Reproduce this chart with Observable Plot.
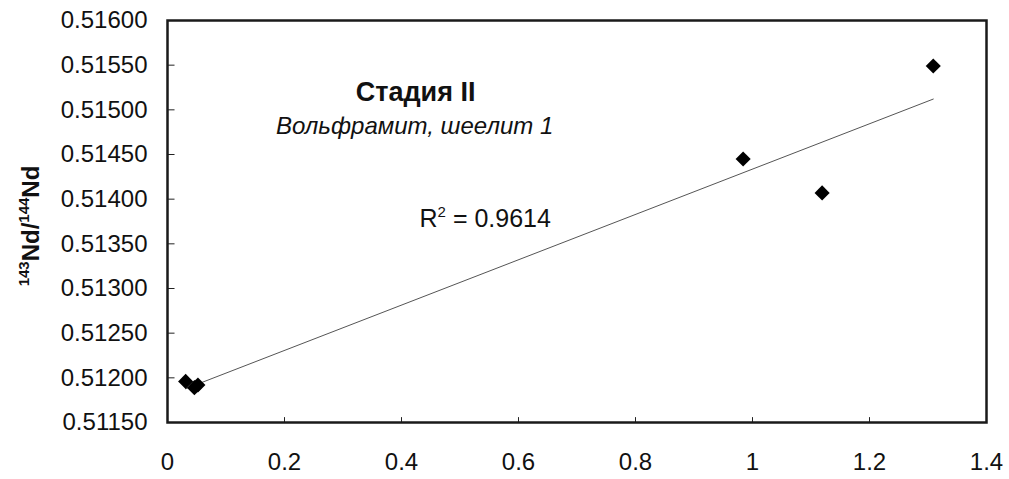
<!DOCTYPE html>
<html>
<head>
<meta charset="utf-8">
<script src="https://cdn.jsdelivr.net/npm/d3@7"></script>
<script src="https://cdn.jsdelivr.net/npm/@observablehq/plot@0.6"></script>
<style>
  html, body { margin: 0; padding: 0; background: #fff; }
  svg { display: block; }
</style>
</head>
<body>
<div id="chart"></div>
<script>
// Data
const xValues = [0.031, 0.046, 0.052, 0.984, 1.119, 1.309];
const yValues = [0.51196, 0.51189, 0.51192, 0.51445, 0.51407, 0.51549];

const xTicks = [0, 0.2, 0.4, 0.6, 0.8, 1, 1.2, 1.4];
const xTickLabels = ["0", "0.2", "0.4", "0.6", "0.8", "1", "1.2", "1.4"];
const yTicks = [0.5115, 0.512, 0.5125, 0.513, 0.5135, 0.514, 0.5145, 0.515, 0.5155, 0.516];

const titleText = "Стадия II";
const subtitleText = "Вольфрамит, шеелит 1";
const r2Value = "0.9614";

const points = xValues.map((x, i) => ({x, y: yValues[i]}));
const font = "'Liberation Sans', Arial, sans-serif";

const chart = Plot.plot({
  width: 1009,
  height: 479,
  marginLeft: 167,
  marginRight: 23,
  marginTop: 20,
  marginBottom: 57,
  style: {fontFamily: font, fontSize: "24px", color: "#111", background: "#fff"},
  x: {domain: [0, 1.4]},
  y: {domain: [0.5115, 0.516]},
  marks: [
    Plot.axisX({ticks: xTicks, tickFormat: (d, i) => xTickLabels[i], tickSize: 0, tickPadding: 30, label: null, fontSize: 24}),
    Plot.axisY({ticks: yTicks, tickFormat: d3.format(".5f"), tickSize: 0, tickPadding: 20, label: null, fontSize: 24}),
    // inward tick marks
    Plot.link(xTicks, {x1: d => d, x2: d => d, y1: 0.5115, y2: 0.5115 + 0.00006, stroke: "#222", strokeWidth: 1}),
    Plot.link(yTicks, {y1: d => d, y2: d => d, x1: 0, x2: 0.012, stroke: "#222", strokeWidth: 1}),
    Plot.linearRegressionY(points, {x: "x", y: "y", ci: 0, stroke: "#555", strokeWidth: 1}),
    Plot.dot(points, {x: "x", y: "y", symbol: "diamond2", r: 6.8, fill: "#000", stroke: "none"}),
    Plot.frame({stroke: "#1a1a1a", strokeWidth: 2.5}),
    Plot.text([titleText], {x: 0.424, y: 0.515195, text: d => d, fontWeight: "bold", fontSize: 27, fill: "#111"}),
    Plot.text([subtitleText], {x: 0.4225, y: 0.514814, text: d => d, fontStyle: "italic", fontSize: 24, fill: "#111"})
  ]
});

const svg = d3.select(chart);
const xs = v => 167 + (v / 1.4) * (1009 - 167 - 23);
const ys = v => 20 + (0.516 - v) / 0.0045 * (479 - 20 - 57);

// R² annotation with a real superscript
const r2 = svg.append("text")
  .attr("x", xs(0.544)).attr("y", ys(0.513785))
  .attr("dy", "0.35em")
  .attr("text-anchor", "middle")
  .attr("font-family", font)
  .attr("font-size", 25)
  .attr("fill", "#111");
r2.append("tspan").text("R");
r2.append("tspan").attr("font-size", 15).attr("dy", -10).text("2");
r2.append("tspan").attr("dy", 10).text(" = " + r2Value);

// Y-axis title with superscripts
const t = svg.append("text")
  .attr("transform", "translate(39,226) rotate(-90)")
  .attr("text-anchor", "middle")
  .attr("font-family", font)
  .attr("font-weight", "bold")
  .attr("font-size", 24)
  .attr("fill", "#111");
t.append("tspan").attr("font-size", 15).attr("dy", -10).text("143");
t.append("tspan").attr("dy", 10).text("Nd/");
t.append("tspan").attr("font-size", 15).attr("dy", -10).text("144");
t.append("tspan").attr("dy", 10).text("Nd");

document.getElementById("chart").appendChild(chart);
</script>
</body>
</html>
